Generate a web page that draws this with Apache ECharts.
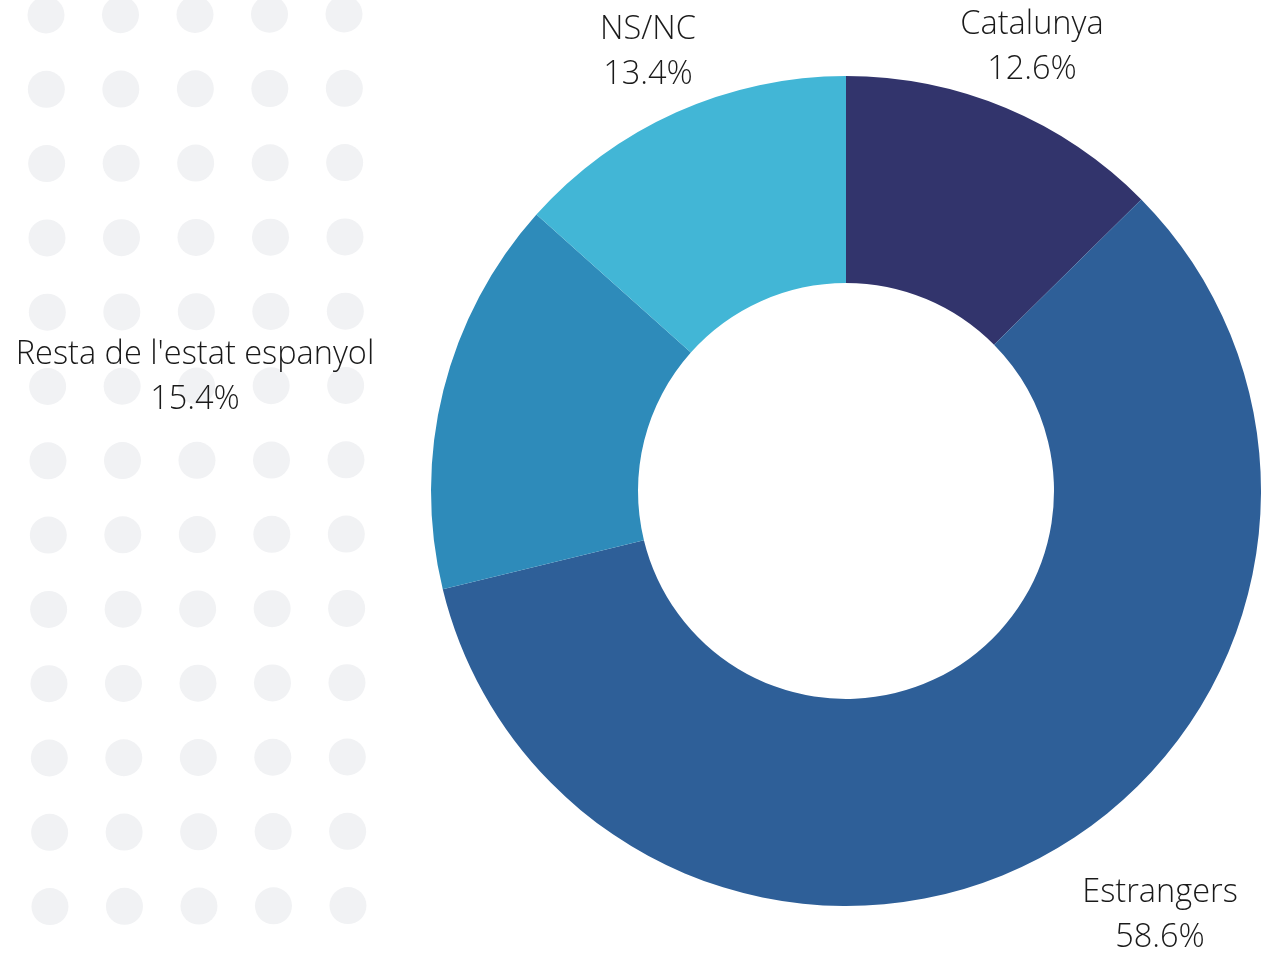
<!DOCTYPE html>
<html>
<head>
<meta charset="utf-8">
<script src="https://cdn.jsdelivr.net/npm/echarts@6/dist/echarts.min.js"></script>
<style>
  html, body { margin: 0; padding: 0; background: #fff; }
  #main { width: 1263px; height: 954px; }
</style>
</head>
<body>
<div id="main"></div>
<script>
// dades (percentatges)
var categories = ["Catalunya", "Estrangers", "Resta de l'estat espanyol", "NS/NC"];
var values = [12.6, 58.6, 15.4, 13.4];
var colors = ["#32346c", "#2e5f98", "#2e8bba", "#42b6d6"];

// on van les etiquetes (centre del bloc de text)
var labelPos = [[1032, 47], [1160, 915], [195, 377], [648, 52]];

var myChart = echarts.init(document.getElementById("main"));

// punts grisos decoratius a l'esquerra
var dots = [];
for (var j = 0; j < 13; j++) {
  for (var i = 0; i < 5; i++) {
    dots.push({
      type: "circle",
      silent: true,
      z: -10,
      shape: { cx: 46 + 74.5 * i + 0.33 * j, cy: 15 + 74.3 * j - 0.25 * i, r: 18.5 },
      style: { fill: "#f1f2f4" }
    });
  }
}

var seriesData = [];
for (var k = 0; k < categories.length; k++) {
  seriesData.push({ name: categories[k], value: values[k], itemStyle: { color: colors[k] } });
}

var option = {
  backgroundColor: "#fff",
  animation: false,
  graphic: dots,
  series: [
    {
      type: "pie",
      center: [846, 491],
      radius: [208, 415],
      startAngle: 90,
      clockwise: true,
      z: 2,
      label: {
        show: true,
        position: "outside",
        formatter: function (p) {
          return p.name + "\n" + p.value.toFixed(1) + "%";
        },
        fontFamily: "Open Sans",
        fontWeight: 300,
        fontSize: 32.5,
        lineHeight: 45,
        color: "#1a1a1a"
      },
      labelLine: { show: false },
      labelLayout: function (params) {
        var pos = labelPos[params.dataIndex];
        return { x: pos[0], y: pos[1], align: "center", verticalAlign: "middle" };
      },
      itemStyle: { borderWidth: 0 },
      emphasis: { disabled: true },
      data: seriesData
    }
  ]
};

myChart.setOption(option);
</script>
</body>
</html>
